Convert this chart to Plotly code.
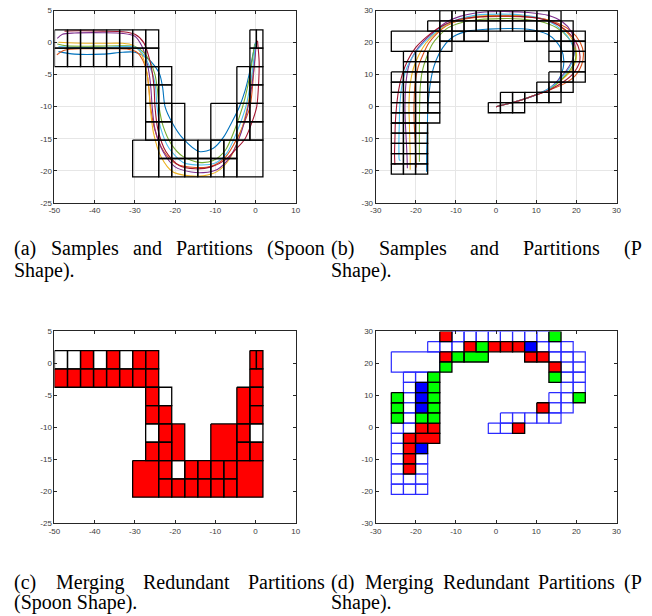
import numpy as np
import plotly.graph_objects as go

W, H = 652, 616

# ---------------- Spoon shape: partition grid ----------------
SPOON_X_EDGES = [-50.0, -46.76, -43.52, -40.28, -37.04, -33.8, -30.56, -27.32, -24.08,
                 -20.84, -17.6, -14.36, -11.12, -7.88, -4.64, -1.4, 1.84]
SPOON_Y_EDGES = [2.0, -0.87, -3.74, -6.61, -9.48, -12.35, -15.22, -18.09, -20.96]
# (col0, col1, row0, row1, state) ; state 1 = redundant (red), 0 = kept (white)
SPOON_CELLS = [
    (0, 1, 0, 1, 0), (1, 2, 0, 1, 0), (2, 3, 0, 1, 1), (3, 4, 0, 1, 0),
    (4, 5, 0, 1, 1), (5, 6, 0, 1, 0), (6, 7, 0, 1, 1), (7, 8, 0, 1, 1),
    (0, 1, 1, 2, 1), (1, 2, 1, 2, 1), (2, 3, 1, 2, 1), (3, 4, 1, 2, 1),
    (4, 5, 1, 2, 1), (5, 6, 1, 2, 1), (6, 7, 1, 2, 1), (7, 8, 1, 2, 1),
    (15, 15.5, 0, 1, 1), (15.5, 16, 0, 1, 1), (15, 16, 1, 2, 1),
    (7, 8, 2, 3, 1), (8, 9, 2, 3, 0), (7, 8, 3, 4, 1), (8, 9, 3, 4, 1),
    (7, 8, 4, 5, 0), (8, 9, 4, 5, 1), (7, 8, 5, 6, 1), (8, 9, 5, 6, 1),
    (9, 10, 4, 6, 1), (6, 8, 6, 8, 1),
    (8, 9, 6, 7, 1), (8, 9, 7, 8, 1), (9, 10, 6, 7, 0), (9, 10, 7, 8, 1),
    (10, 11, 6, 7, 1), (10, 11, 7, 8, 1), (11, 12, 6, 7, 1), (11, 12, 7, 8, 1),
    (12, 13, 6, 7, 1), (12, 13, 7, 8, 1), (13, 14, 6, 7, 1), (13, 14, 7, 8, 1),
    (14, 16, 6, 8, 1), (12, 14, 4, 6, 1),
    (14, 15, 2, 4, 1), (14, 15, 4, 5, 1), (14, 15, 5, 6, 1),
    (15, 16, 2, 3, 1), (15, 16, 3, 4, 1), (15, 16, 4, 5, 0), (15, 16, 5, 6, 1),
]

# ---------------- Spoon shape: sample trajectories ----------------
SPOON_BLUE_X = [-49.0, -45.0, -38.0, -33.0, -30.0, -27.0, -25.0, -23.8, -23.1, -22.5, -20.9,
                -18.0, -14.0, -10.5, -8.0, -5.8, -4.0, -2.6, -1.6, -0.7, 0.0]
SPOON_BLUE_Y = [-1.4, -1.8, -1.8, -1.5, -1.5, -2.4, -3.7, -5.0, -7.0, -10.0, -12.3,
                -15.0, -17.0, -16.5, -14.8, -12.3, -10.0, -7.5, -5.0, -2.0, 0.0]
SPOON_ORANGE_X = [-49.4, -47.5, -43.0, -36.0, -32.0, -29.5, -28.0, -27.0, -26.5, -26.1, -25.1,
                  -22.8, -19.5, -15.0, -11.0, -7.5, -4.6, -2.8, -1.35, -0.5, 0.0]
SPOON_ORANGE_Y = [-1.9, -1.2, -0.95, -0.95, -1.0, -1.5, -2.8, -4.8, -7.3, -10.0, -13.5,
                  -17.0, -19.0, -19.5, -19.3, -17.9, -15.0, -12.5, -10.0, -5.0, -0.5]
SPOON_YELLOW_X = [-49.0, -45.0, -38.0, -33.0, -30.5, -28.6, -27.4, -26.8, -26.5, -26.2, -25.4,
                  -23.5, -20.5, -16.5, -13.0, -9.5, -6.5, -4.2, -2.0, -1.0, -0.2, 0.1]
SPOON_YELLOW_Y = [0.05, -0.05, -0.1, -0.1, -0.4, -1.5, -3.5, -5.5, -7.3, -10.0, -14.0,
                  -17.8, -20.2, -20.8, -20.8, -20.1, -18.2, -15.0, -10.0, -6.0, -2.0, 0.0]
SPOON_PURPLE_X = [-49.3, -48.0, -45.0, -38.0, -33.0, -30.0, -28.3, -27.0, -26.3, -26.0, -25.7,
                  -25.0, -23.0, -20.0, -16.0, -13.0, -9.5, -6.5, -4.0, -2.2, -1.1, -0.3, 0.2]
SPOON_PURPLE_Y = [0.65, 1.3, 1.5, 1.55, 1.45, 1.0, -0.5, -3.0, -5.5, -7.3, -10.0,
                  -13.5, -17.0, -19.4, -20.2, -20.3, -19.8, -18.0, -14.8, -11.0, -7.5, -3.5, 0.0]
SPOON_GREEN_X = [-49.3, -47.0, -40.0, -33.0, -30.0, -28.0, -26.2, -25.0, -24.4, -24.0, -23.0,
                 -21.0, -18.0, -14.0, -10.5, -7.5, -5.3, -3.2, -2.0, -1.0, -0.2]
SPOON_GREEN_Y = [-0.2, -0.5, -0.55, -0.5, -0.6, -1.4, -3.0, -5.0, -7.3, -10.0, -13.0,
                 -15.8, -17.8, -18.7, -18.4, -16.8, -13.8, -10.0, -7.0, -3.5, -0.2]
SPOON_LBLUE_X = [-49.0, -45.0, -38.0, -33.0, -30.0, -28.2, -26.5, -25.3, -24.8, -24.5, -23.6,
                 -21.5, -18.0, -13.5, -10.0, -7.2, -4.8, -2.4, -1.3, -0.5, 0.0]
SPOON_LBLUE_Y = [-0.6, -0.75, -0.75, -0.6, -0.7, -1.6, -3.5, -5.5, -7.3, -10.0, -13.3,
                 -16.5, -18.7, -19.1, -18.8, -17.3, -14.2, -10.0, -6.5, -3.0, 0.0]
SPOON_DRED_X = [-47.5, -44.0, -38.0, -33.0, -30.0, -27.8, -26.4, -25.6, -25.2, -25.0, -24.3,
                -22.3, -19.0, -15.0, -11.0, -7.5, -4.8, -2.6, -0.8, 0.3, 0.8, 0.9, 0.5]
SPOON_DRED_Y = [1.8, 1.85, 1.8, 1.7, 1.3, 0.0, -2.5, -5.0, -7.3, -10.0, -13.5,
                -17.0, -19.2, -19.7, -19.4, -18.3, -16.6, -15.0, -12.3, -10.0, -6.0, -3.0, 0.3]

# ---------------- P shape: partition grid ----------------
P_X_EDGES = [-26.1, -23.08, -20.06, -17.04, -14.02, -11.0, -7.98, -4.96, -1.94, 1.08, 4.1,
             7.12, 10.14, 13.16, 16.18, 19.2, 22.22]
P_Y_EDGES = [30.0, 26.81, 23.62, 20.43, 17.24, 14.05, 10.86, 7.67, 4.48, 1.29, -1.9,
             -5.09, -8.28, -11.47, -14.66, -17.85, -21.04]
# state: 0 kept (white), 1 red, 2 green, 3 blue
P_CELLS = [
    (4, 5, 0, 1, 1), (5, 6, 0, 1, 0), (6, 7, 0, 1, 0), (7, 8, 0, 1, 0), (8, 9, 0, 1, 0),
    (9, 10, 0, 1, 0), (10, 11, 0, 1, 0), (11, 12, 0, 1, 0), (12, 13, 0, 1, 0), (13, 14, 0, 1, 2),
    (3, 4, 1, 2, 0), (4, 5, 1, 2, 0), (5, 6, 1, 2, 0), (6, 7, 1, 2, 1), (7, 8, 1, 2, 2),
    (8, 9, 1, 2, 1), (9, 10, 1, 2, 1), (10, 11, 1, 2, 1), (11, 12, 1, 2, 3), (12, 13, 1, 2, 0),
    (13, 14, 1, 2, 0), (14, 15, 1, 2, 0),
    (0, 4, 2, 4, 0), (4, 5, 2, 3, 1), (5, 6, 2, 3, 2), (6, 8, 2, 3, 2), (11, 12, 2, 3, 1),
    (12, 13, 2, 3, 1), (13, 14, 2, 3, 0), (14, 15, 2, 3, 0), (15, 16, 2, 3, 0),
    (4, 5, 3, 4, 2), (13, 14, 3, 4, 1), (14, 15, 3, 4, 0), (15, 16, 3, 4, 0),
    (1, 2, 4, 5, 0), (2, 3, 4, 5, 0), (3, 4, 4, 5, 2), (13, 14, 4, 5, 2), (14, 15, 4, 5, 0),
    (15, 16, 4, 5, 0),
    (1, 2, 5, 6, 0), (2, 3, 5, 6, 3), (3, 4, 5, 6, 2), (14, 15, 5, 6, 0), (15, 16, 5, 6, 0),
    (0, 1, 6, 7, 2), (1, 2, 6, 7, 0), (2, 3, 6, 7, 3), (3, 4, 6, 7, 2), (13, 14, 6, 7, 0),
    (14, 15, 6, 7, 0), (15, 16, 6, 7, 2),
    (0, 1, 7, 8, 2), (1, 2, 7, 8, 0), (2, 3, 7, 8, 3), (3, 4, 7, 8, 2), (12, 13, 7, 8, 1),
    (13, 14, 7, 8, 0), (14, 15, 7, 8, 0),
    (0, 1, 8, 9, 2), (1, 2, 8, 9, 0), (2, 3, 8, 9, 2), (3, 4, 8, 9, 2), (9, 10, 8, 9, 0),
    (10, 11, 8, 9, 0), (11, 12, 8, 9, 0), (12, 13, 8, 9, 0), (13, 14, 8, 9, 0),
    (0, 1, 9, 10, 0), (1, 2, 9, 10, 0), (2, 3, 9, 10, 1), (3, 4, 9, 10, 1), (8, 9, 9, 10, 0),
    (9, 10, 9, 10, 0), (10, 11, 9, 10, 1),
    (0, 1, 10, 11, 0), (1, 2, 10, 11, 1), (2, 4, 10, 11, 1),
    (0, 1, 11, 12, 0), (1, 2, 11, 12, 1), (2, 3, 11, 12, 3),
    (0, 1, 12, 13, 0), (1, 2, 12, 13, 1), (2, 3, 12, 13, 0),
    (0, 1, 13, 14, 0), (1, 2, 13, 14, 1), (2, 3, 13, 14, 0),
    (0, 1, 14, 15, 0), (1, 2, 14, 15, 0), (2, 3, 14, 15, 0),
    (0, 1, 15, 16, 0), (1, 2, 15, 16, 0), (2, 3, 15, 16, 0),
]

# ---------------- P shape: sample trajectories ----------------
P_BLUE_X = [0, 5, 10, 13.5, 15.6, 16.7, 16.85, 16.4, 15.0, 12.8, 8.0, 3.0, -2.0, -7.0, -10.5,
            -12.5, -14.2, -15.5, -16.3, -16.8, -17.0, -17.1, -17.2, -17.3, -17.3]
P_BLUE_Y = [0, 1.6, 3.7, 5.8, 8.5, 12.0, 14.6, 17.5, 20.3, 22.6, 24.2, 24.4, 24.2, 23.6, 22.0,
            19.8, 16.5, 12.5, 8.0, 3.0, 0.0, -5.0, -10.0, -15.0, -20.3]
P_ORANGE_X = [0, 5, 10, 13.5, 17.0, 19.8, 21.3, 21.75, 21.0, 18.8, 15.5, 11.0, 6.0, 1.0, -4.0,
              -9.0, -12.5, -15.0, -16.8, -18.3, -19.5, -20.2, -20.45, -20.4, -20.2, -20.0, -19.9]
P_ORANGE_Y = [0, 1.6, 3.7, 5.3, 7.2, 9.8, 13.0, 16.7, 20.0, 23.5, 26.0, 27.6, 28.1, 28.2, 28.0,
              27.0, 25.2, 22.5, 19.8, 16.0, 12.0, 7.0, 0.0, -5.0, -10.0, -15.0, -19.0]
P_YELLOW_X = [0, 5, 10, 13.5, 16.5, 18.8, 19.9, 20.0, 19.2, 17.0, 13.5, 9.0, 4.0, -1.0, -5.0,
              -9.5, -13.0, -15.5, -17.5, -19.3, -20.6, -21.4, -21.7, -21.6, -21.5, -21.4, -21.4]
P_YELLOW_Y = [0, 1.6, 3.7, 5.6, 8.5, 11.5, 14.5, 17.0, 20.5, 24.0, 26.8, 28.1, 28.5, 28.5, 28.2,
              27.0, 25.0, 22.5, 19.8, 16.0, 12.0, 7.0, 0.0, -5.0, -10.0, -15.0, -19.7]
P_PURPLE_X = [0, 5, 10, 13.5, 16.2, 18.3, 19.4, 19.6, 18.7, 16.5, 13.0, 8.0, 2.0, -4.0, -9.0,
              -12.5, -15.3, -18.0, -20.2, -21.7, -22.4, -22.7, -22.6, -22.4, -22.2, -22.1]
P_PURPLE_Y = [0, 1.6, 3.7, 6.0, 9.3, 12.8, 16.0, 19.5, 23.5, 26.5, 28.5, 29.4, 29.7, 29.4, 28.2,
              26.3, 23.5, 20.5, 17.0, 13.0, 8.0, 0.0, -5.0, -10.0, -15.0, -19.2]
P_GREEN_X = [0, 5, 10, 13.5, 16.5, 18.7, 19.8, 19.6, 18.0, 15.0, 11.0, 6.0, 1.0, -4.0, -8.5,
             -12.0, -14.3, -15.9, -17.3, -18.4, -18.9, -19.05, -19.1, -19.1, -19.1, -19.1]
P_GREEN_Y = [0, 1.6, 3.7, 5.7, 8.8, 12.0, 15.0, 18.0, 21.5, 24.7, 26.6, 27.4, 27.5, 27.2, 26.3,
             24.6, 22.0, 19.5, 15.5, 11.0, 6.0, 0.0, -5.0, -10.0, -15.0, -17.2]
P_LBLUE_X = [0, 5, 10, 13.5, 16.3, 18.4, 19.3, 19.2, 17.8, 15.0, 11.0, 6.0, 1.0, -5.0, -9.5,
             -13.0, -15.8, -18.3, -20.6, -22.3, -23.4, -24.0, -24.1, -24.2, -24.2, -24.1, -23.8]
P_LBLUE_Y = [0, 1.6, 3.7, 5.9, 9.0, 12.5, 15.5, 18.5, 22.0, 25.3, 27.6, 28.7, 28.9, 28.6, 27.3,
             25.3, 22.5, 19.6, 16.0, 12.0, 7.0, 0.0, -5.0, -10.0, -14.0, -16.6, -16.8]
P_DRED_X = [0, 5, 10, 13.5, 16.8, 19.3, 20.7, 20.9, 20.4, 18.5, 15.5, 11.0, 6.0, 0.0, -5.0,
            -10.0, -14.0, -17.3, -20.0, -22.0, -23.4, -24.3, -24.8, -25.1, -25.2, -25.3, -25.2]
P_DRED_Y = [0, 1.6, 3.7, 5.4, 7.8, 10.5, 13.5, 15.7, 19.0, 22.5, 25.5, 27.5, 28.2, 28.3, 28.0,
            27.0, 24.8, 21.8, 18.5, 14.5, 10.0, 5.0, 0.0, -5.0, -10.0, -15.0, -18.2]

# MATLAB default line colour order
COLORS = {"blue": "#0072BD", "orange": "#D95319", "yellow": "#EDB120", "purple": "#7E2F8E",
          "green": "#77AC30", "lblue": "#4DBEEE", "dred": "#A2142F"}

SPOON_CURVES = [("blue", SPOON_BLUE_X, SPOON_BLUE_Y), ("orange", SPOON_ORANGE_X, SPOON_ORANGE_Y),
                ("yellow", SPOON_YELLOW_X, SPOON_YELLOW_Y), ("purple", SPOON_PURPLE_X, SPOON_PURPLE_Y),
                ("green", SPOON_GREEN_X, SPOON_GREEN_Y), ("lblue", SPOON_LBLUE_X, SPOON_LBLUE_Y),
                ("dred", SPOON_DRED_X, SPOON_DRED_Y)]
P_CURVES = [("blue", P_BLUE_X, P_BLUE_Y), ("orange", P_ORANGE_X, P_ORANGE_Y),
            ("yellow", P_YELLOW_X, P_YELLOW_Y), ("purple", P_PURPLE_X, P_PURPLE_Y),
            ("green", P_GREEN_X, P_GREEN_Y), ("lblue", P_LBLUE_X, P_LBLUE_Y),
            ("dred", P_DRED_X, P_DRED_Y)]

SPOON_XTICKS = [-50, -40, -30, -20, -10, 0, 10]
SPOON_YTICKS = [-25, -20, -15, -10, -5, 0, 5]
P_XTICKS = [-30, -20, -10, 0, 10, 20, 30]
P_YTICKS = [-30, -20, -10, 0, 10, 20, 30]

# caption lines (justified two-column sub-captions): words with left-edge pixel
CAPTIONS = [
    [("(a)", 7), ("Samples", 44.6), ("and", 127.8), ("Partitions", 172.1), ("(Spoon", 264.2)],
    [("Shape).", 7)],
    [("(b)", 330), ("Samples", 378.4), ("and", 471.3), ("Partitions", 525.3), ("(P", 627.1)],
    [("Shape).", 330)],
    [("(c)", 7), ("Merging", 49.4), ("Redundant", 138.5), ("Partitions", 245.4)],
    [("(Spoon Shape).", 7)],
    [("(d)", 330), ("Merging", 363.7), ("Redundant", 443.0), ("Partitions", 540.1), ("(P", 627.2)],
    [("Shape).", 330)],
]
CAPTION_Y = [248, 270, 248, 270, 587, 607, 587, 607]

# ---------------- build figure ----------------
PANELS = {"a": (49.3, 294.7, 6.7, 201.7), "b": (376.0, 621.0, 6.7, 201.7),
          "c": (49.3, 294.7, 332.3, 526.7), "d": (376.0, 621.0, 332.3, 526.7)}
AX = {"a": ("x", "y"), "b": ("x2", "y2"), "c": ("x3", "y3"), "d": ("x4", "y4")}


def cell_path(cells, xe, ye, states):
    ix = np.arange(len(xe))
    iy = np.arange(len(ye))
    xs, ys = [], []
    for c0, c1, r0, r1, s in cells:
        if s not in states:
            continue
        x0, x1 = np.interp([c0, c1], ix, xe)
        y0, y1 = np.interp([r0, r1], iy, ye)
        xs += [x0, x1, x1, x0, x0, None]
        ys += [y0, y0, y1, y1, y0, None]
    return xs, ys


fig = go.Figure()

# (a) samples + partitions (spoon)
for key, xs, ys in SPOON_CURVES:
    fig.add_trace(go.Scatter(x=xs, y=ys, mode="lines", xaxis="x", yaxis="y",
                             line=dict(color=COLORS[key], width=1.1, shape="spline", smoothing=0.8),
                             hoverinfo="skip"))
cx, cy = cell_path(SPOON_CELLS, SPOON_X_EDGES, SPOON_Y_EDGES, (0, 1))
fig.add_trace(go.Scatter(x=cx, y=cy, mode="lines", xaxis="x", yaxis="y",
                         line=dict(color="#000000", width=1.3), hoverinfo="skip"))

# (b) samples + partitions (P)
for key, xs, ys in P_CURVES:
    fig.add_trace(go.Scatter(x=xs, y=ys, mode="lines", xaxis="x2", yaxis="y2",
                             line=dict(color=COLORS[key], width=1.1, shape="spline", smoothing=0.8),
                             hoverinfo="skip"))
cx, cy = cell_path(P_CELLS, P_X_EDGES, P_Y_EDGES, (0, 1, 2, 3))
fig.add_trace(go.Scatter(x=cx, y=cy, mode="lines", xaxis="x2", yaxis="y2",
                         line=dict(color="#000000", width=1.3), hoverinfo="skip"))

# (c) merged redundant partitions (spoon)
cx, cy = cell_path(SPOON_CELLS, SPOON_X_EDGES, SPOON_Y_EDGES, (1,))
fig.add_trace(go.Scatter(x=cx, y=cy, mode="lines", xaxis="x3", yaxis="y3", fill="toself",
                         fillcolor="#FF0000", line=dict(color="#000000", width=1.3),
                         hoverinfo="skip"))
cx, cy = cell_path(SPOON_CELLS, SPOON_X_EDGES, SPOON_Y_EDGES, (0,))
fig.add_trace(go.Scatter(x=cx, y=cy, mode="lines", xaxis="x3", yaxis="y3",
                         line=dict(color="#000000", width=1.3), hoverinfo="skip"))

# (d) merged redundant partitions (P)
cx, cy = cell_path(P_CELLS, P_X_EDGES, P_Y_EDGES, (0,))
fig.add_trace(go.Scatter(x=cx, y=cy, mode="lines", xaxis="x4", yaxis="y4",
                         line=dict(color="#2a2aff", width=1.2), hoverinfo="skip"))
for state, col in ((1, "#FF0000"), (2, "#00FF00"), (3, "#0000FF")):
    cx, cy = cell_path(P_CELLS, P_X_EDGES, P_Y_EDGES, (state,))
    fig.add_trace(go.Scatter(x=cx, y=cy, mode="lines", xaxis="x4", yaxis="y4", fill="toself",
                             fillcolor=col, line=dict(color="#000000", width=1.3),
                             hoverinfo="skip"))

TICKFONT = dict(family="Liberation Sans, Arial, sans-serif", size=8, color="#3a3a3a")


def axis(dom, rng, ticks, grid, anchor):
    return dict(domain=dom, range=rng, tickvals=ticks, ticktext=[str(t) for t in ticks],
                showline=True, linecolor="#262626", linewidth=1, mirror="ticks",
                ticks="inside", ticklen=3, tickcolor="#262626", tickwidth=1,
                tickfont=TICKFONT, showgrid=grid, gridcolor="#e6e6e6", gridwidth=1,
                zeroline=False, fixedrange=True, anchor=anchor)


layout = dict(width=W, height=H, autosize=False, showlegend=False,
              margin=dict(l=0, r=0, t=0, b=0), paper_bgcolor="white", plot_bgcolor="white")
for p, (xl, xr, yt, yb) in PANELS.items():
    xa, ya = AX[p]
    xdom = [xl / W, xr / W]
    ydom = [1 - yb / H, 1 - yt / H]
    spoon = p in ("a", "c")
    grid = p in ("a", "b")
    xname = "xaxis" if xa == "x" else "xaxis" + xa[1:]
    yname = "yaxis" if ya == "y" else "yaxis" + ya[1:]
    layout[xname] = axis(xdom, [-50, 10] if spoon else [-30, 30],
                         SPOON_XTICKS if spoon else P_XTICKS, grid, ya)
    layout[yname] = axis(ydom, [-25, 5] if spoon else [-30, 30],
                         SPOON_YTICKS if spoon else P_YTICKS, grid, xa)

annotations = []
for words, ypx in zip(CAPTIONS, CAPTION_Y):
    for text, xpx in words:
        annotations.append(dict(text=text, x=xpx / W, y=1 - ypx / H, xref="paper", yref="paper",
                                xanchor="left", yanchor="middle", showarrow=False, borderpad=0,
                                font=dict(family="Liberation Serif, Times New Roman, serif",
                                          size=20, color="#000000")))
layout["annotations"] = annotations

fig.update_layout(**layout)
fig.write_html("out.html", config={"displayModeBar": False, "staticPlot": True},
               post_script="document.body.style.margin='0px';")
